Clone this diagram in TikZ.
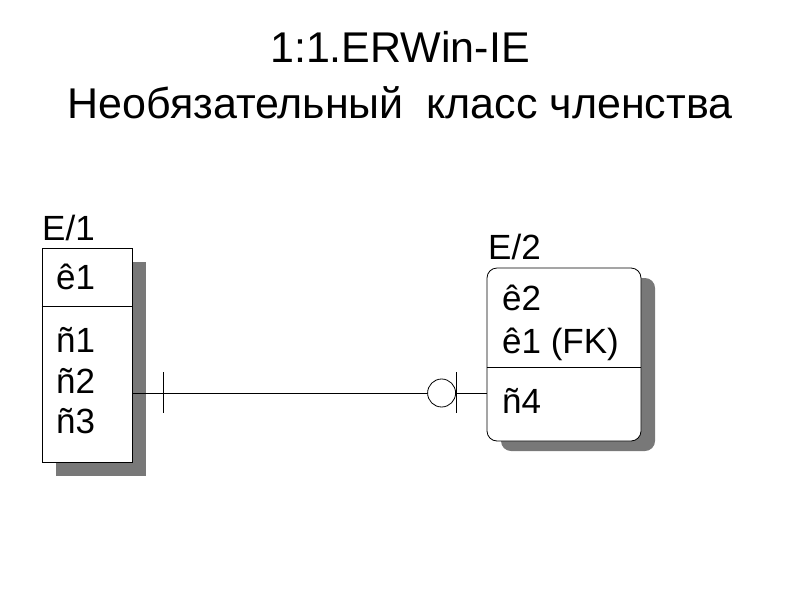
\documentclass[tikz,border=0pt]{standalone}
\usepackage{fontspec}
\setmainfont{Liberation Sans}
\usepackage{tikz}
\usetikzlibrary{positioning,shadows,calc}
\definecolor{shadowgray}{RGB}{120,120,120}

\begin{document}
\begin{tikzpicture}[
    x=1pt, y=-1pt,
    titletext/.style={font=\fontsize{43}{50}\selectfont, anchor=base},
    enttext/.style={font=\fontsize{35}{42}\selectfont, anchor=base west, inner sep=0pt},
    entbox/.style={rectangle, draw=black, fill=white, line width=0.8pt, inner sep=0pt},
    entshadow/.style={drop shadow={shadow xshift=14pt, shadow yshift=-14pt, fill=shadowgray, opacity=1}},
    rel/.style={line width=0.8pt}
]
    \useasboundingbox (0,0) rectangle (800,600);

    % Title
    \node[titletext] (title1) at (400,62) {1:1.ERWin-IE};
    \node[titletext] (title2) at (400,118) {Необязательный\hspace{0.25em} класс членства};

    % Entity E/1
    \node[entbox, entshadow, minimum width=90pt, minimum height=214pt] (e1) at (87,355) {};
    \node[enttext] (e1name) at (42,240) {E/1};
    \draw[rel] ([yshift=-59pt]e1.north west) -- ([yshift=-59pt]e1.north east);
    \node[enttext] (e1k1) at (56,289) {ê1};
    \node[enttext] (e1n1) at (56,352) {ñ1};
    \node[enttext] (e1n2) at (56,393) {ñ2};
    \node[enttext] (e1n3) at (56,433) {ñ3};

    % Entity E/2
    \node[entbox, rounded corners=10pt, drop shadow={shadow xshift=14pt, shadow yshift=-10pt, fill=shadowgray, opacity=1},
          minimum width=154pt, minimum height=173pt] (e2) at (564,354.5) {};
    \node[enttext] (e2name) at (488,259) {E/2};
    \draw[rel] ([yshift=-100pt]e2.north west) -- ([yshift=-100pt]e2.north east);
    \node[enttext] (e2k2) at (502,310) {ê2};
    \node[enttext] (e2k1) at (502,353) {ê1 (FK)};
    \node[enttext] (e2n4) at (502,413) {ñ4};

    % Relationship
    \coordinate (relrow) at (0,393);
    \coordinate (relA) at (e1.east |- relrow);
    \coordinate (relB) at (e2.west |- relrow);
    \draw[rel] (relA) -- (relB);
    \draw[rel] ($(relA)+(31,-21)$) -- ($(relA)+(31,20)$);
    \node[circle, draw, fill=white, rel, minimum size=28pt, inner sep=0pt] (optcirc) at ($(relB)+(-45,0)$) {};
    \draw[rel] ($(relB)+(-30,-21)$) -- ($(relB)+(-30,20)$);

\end{tikzpicture}
\end{document}
